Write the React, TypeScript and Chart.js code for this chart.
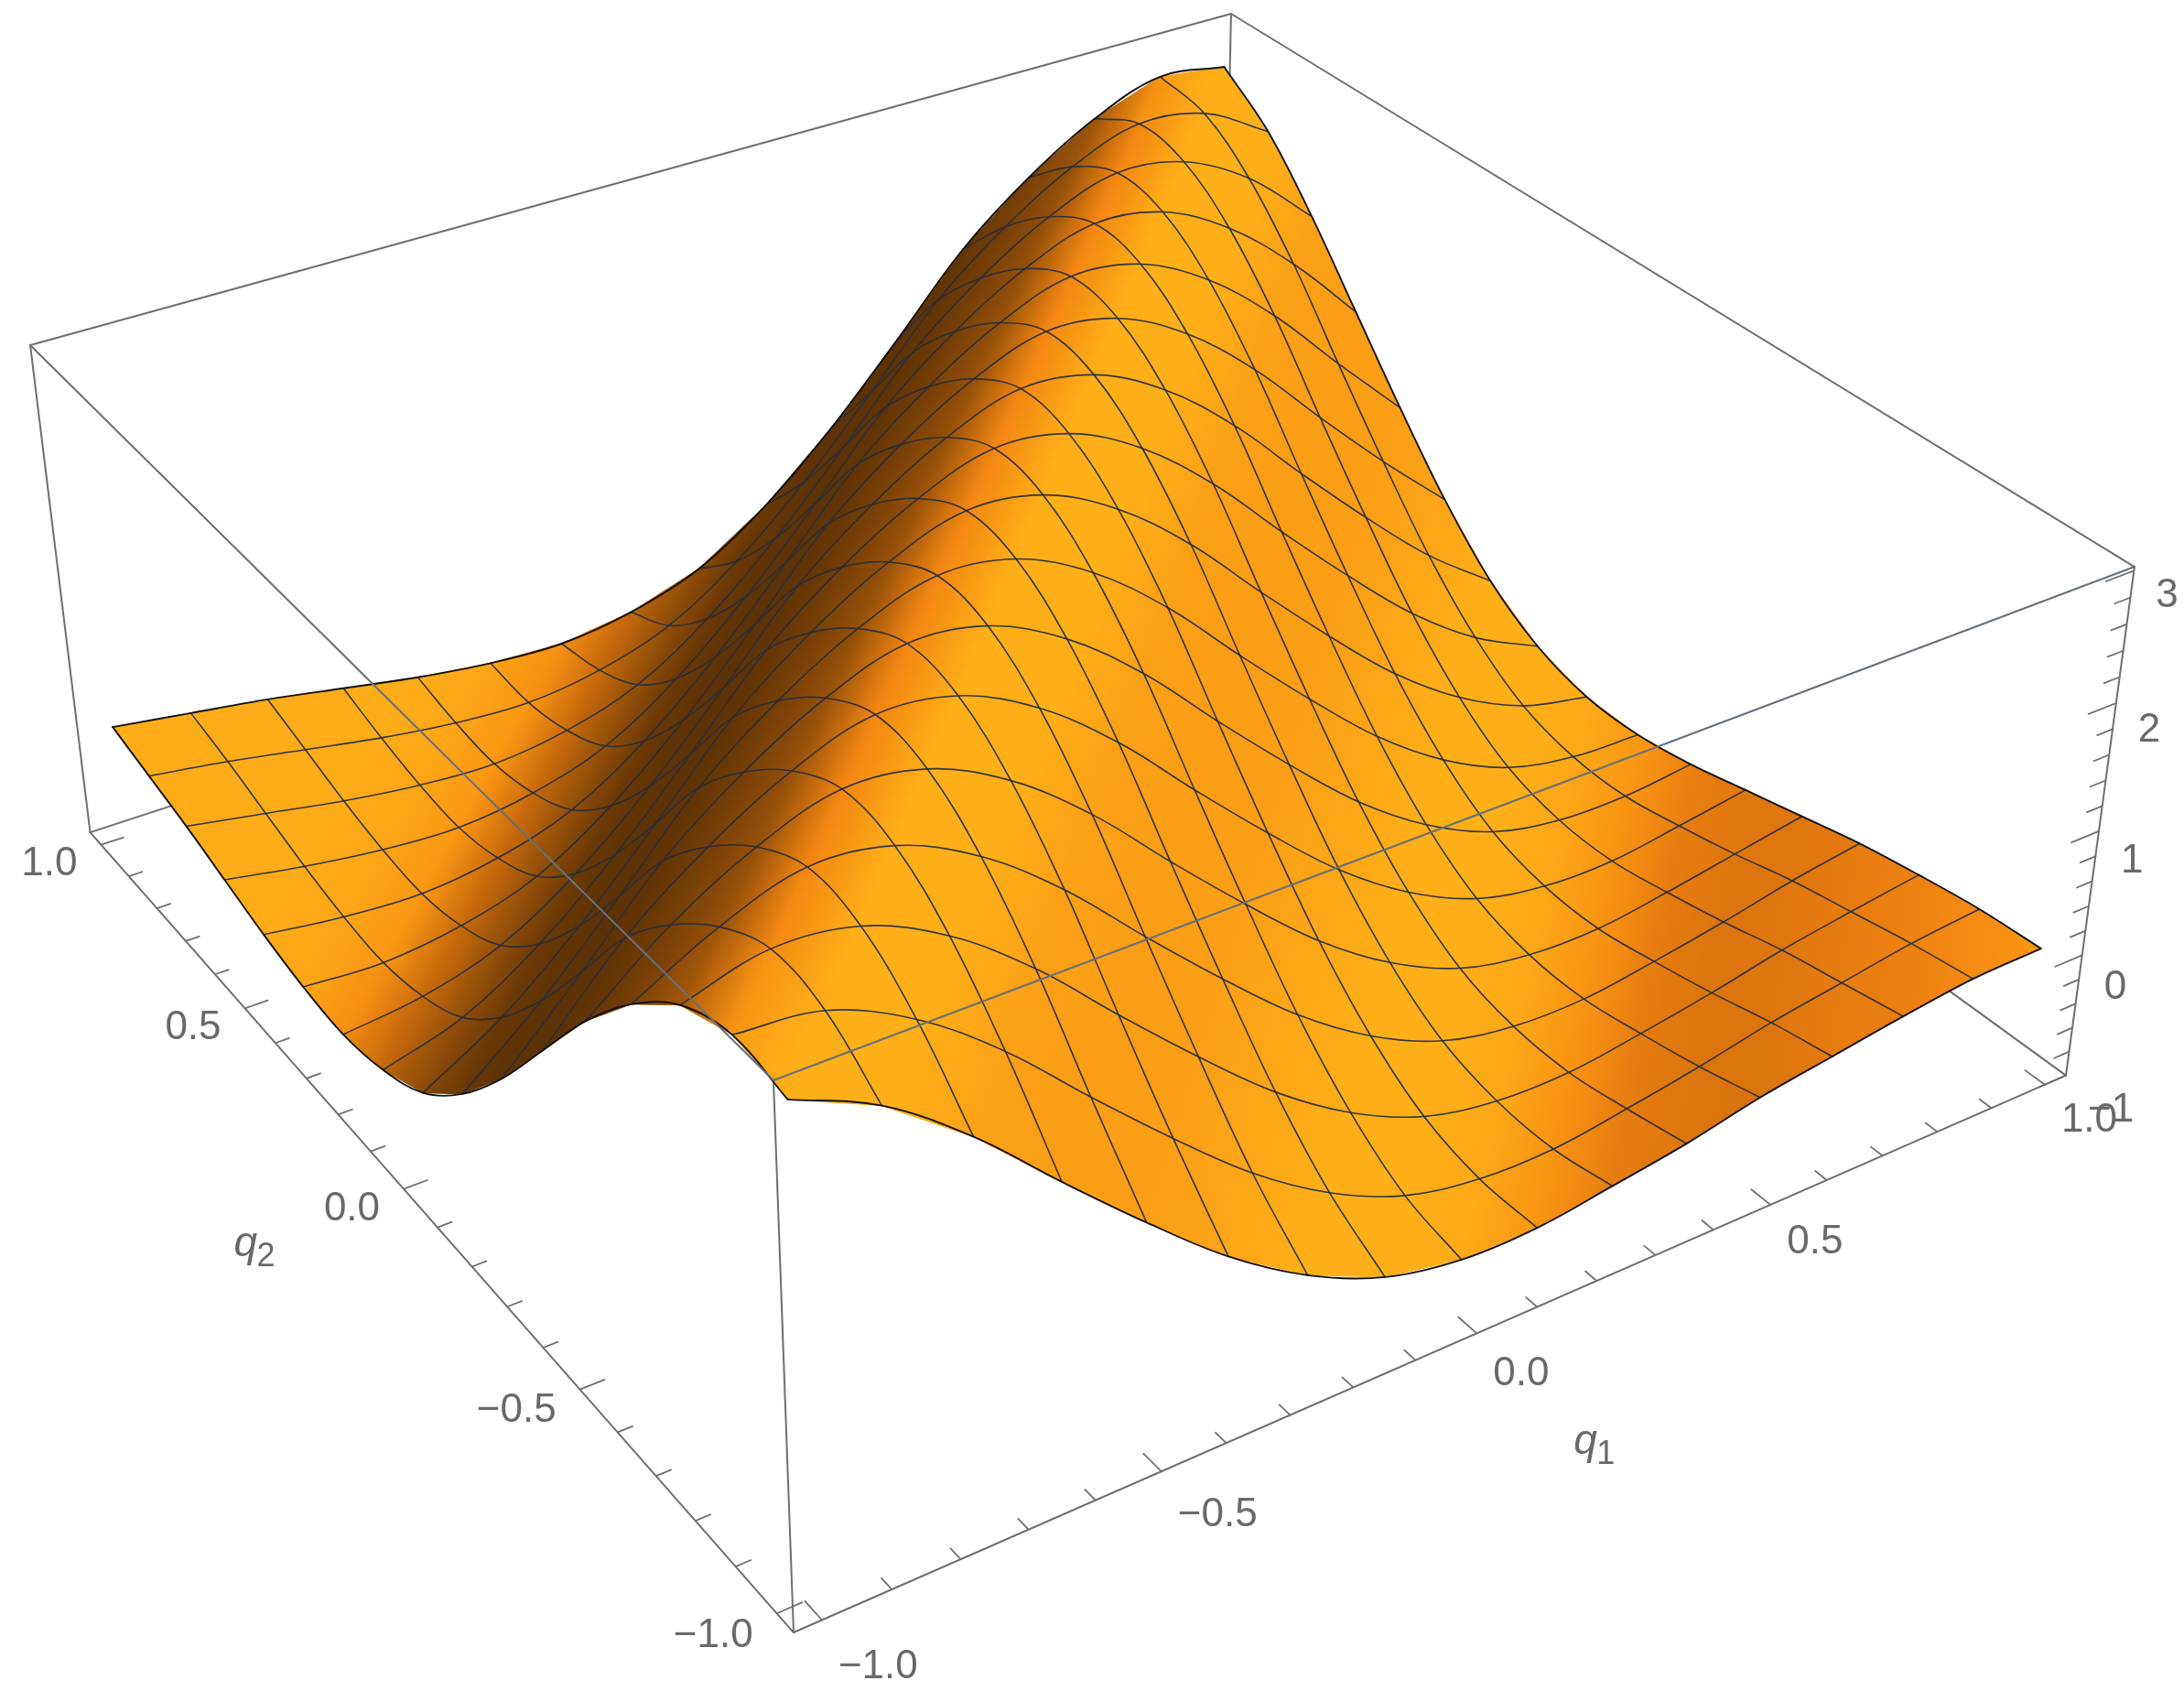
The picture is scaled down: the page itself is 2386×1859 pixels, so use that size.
import React, { useEffect, useRef } from "react";
import { Chart, registerables } from "chart.js";

Chart.register(...registerables);

// q1 / q2 grid (mesh lines, plus the two edges of the surface)
const gridQ = [-1, -0.875, -0.75, -0.625, -0.5, -0.375, -0.25, -0.125, 0, 0.125, 0.25, 0.375, 0.5, 0.625, 0.75, 0.875, 1];

// surface height, one row for each q2 (from -1 to 1), one column for each q1 (from -1 to 1)
const surfaceZ = [
  [2.70, 2.41, 1.94, 1.36, 0.80, 0.28, -0.13, -0.41, -0.535, -0.54, -0.46, -0.37, -0.245, -0.156, -0.07, 0.00, 0.015],
  [2.77, 2.70, 2.40, 1.93, 1.35, 0.79, 0.27, -0.14, -0.42, -0.54, -0.55, -0.47, -0.37, -0.25, -0.16, -0.07, -0.015],
  [2.61, 2.77, 2.70, 2.40, 1.93, 1.35, 0.79, 0.27, -0.14, -0.42, -0.54, -0.55, -0.47, -0.37, -0.25, -0.16, -0.08],
  [2.25, 2.57, 2.77, 2.70, 2.40, 1.93, 1.35, 0.79, 0.27, -0.14, -0.42, -0.54, -0.55, -0.47, -0.37, -0.25, -0.16],
  [1.76, 2.23, 2.57, 2.77, 2.70, 2.40, 1.93, 1.35, 0.79, 0.27, -0.14, -0.42, -0.54, -0.55, -0.47, -0.37, -0.27],
  [1.17, 1.78, 2.23, 2.57, 2.77, 2.70, 2.40, 1.93, 1.35, 0.79, 0.27, -0.14, -0.42, -0.54, -0.55, -0.47, -0.38],
  [0.58, 1.17, 1.78, 2.23, 2.57, 2.77, 2.70, 2.40, 1.93, 1.35, 0.79, 0.27, -0.14, -0.42, -0.54, -0.55, -0.49],
  [0.08, 0.58, 1.17, 1.78, 2.23, 2.57, 2.77, 2.70, 2.40, 1.93, 1.35, 0.79, 0.27, -0.14, -0.42, -0.54, -0.56],
  [-0.29, 0.08, 0.58, 1.17, 1.78, 2.23, 2.57, 2.77, 2.70, 2.40, 1.93, 1.35, 0.79, 0.27, -0.14, -0.42, -0.55],
  [-0.48, -0.29, 0.08, 0.58, 1.17, 1.78, 2.23, 2.57, 2.77, 2.70, 2.40, 1.93, 1.35, 0.79, 0.27, -0.14, -0.42],
  [-0.56, -0.48, -0.29, 0.08, 0.58, 1.17, 1.78, 2.23, 2.57, 2.77, 2.70, 2.40, 1.93, 1.35, 0.79, 0.27, -0.15],
  [-0.53, -0.56, -0.48, -0.29, 0.08, 0.58, 1.17, 1.78, 2.23, 2.57, 2.77, 2.70, 2.40, 1.93, 1.35, 0.79, 0.27],
  [-0.45, -0.53, -0.56, -0.48, -0.29, 0.08, 0.58, 1.17, 1.78, 2.23, 2.57, 2.77, 2.70, 2.40, 1.93, 1.35, 0.79],
  [-0.34, -0.45, -0.53, -0.56, -0.48, -0.29, 0.08, 0.58, 1.17, 1.78, 2.23, 2.57, 2.77, 2.70, 2.40, 1.93, 1.35],
  [-0.23, -0.34, -0.45, -0.53, -0.56, -0.48, -0.29, 0.08, 0.58, 1.17, 1.78, 2.23, 2.57, 2.77, 2.70, 2.40, 1.91],
  [-0.14, -0.23, -0.34, -0.45, -0.53, -0.56, -0.48, -0.29, 0.08, 0.58, 1.17, 1.78, 2.23, 2.57, 2.77, 2.70, 2.39],
  [-0.05, -0.14, -0.23, -0.34, -0.45, -0.53, -0.56, -0.48, -0.29, 0.08, 0.58, 1.17, 1.78, 2.23, 2.57, 2.77, 2.70],
];

const qMajorTicks = [-1, -0.5, 0, 0.5, 1];
const qMinorTicks = [-0.9, -0.8, -0.7, -0.6, -0.4, -0.3, -0.2, -0.1, 0.1, 0.2, 0.3, 0.4, 0.6, 0.7, 0.8, 0.9];
const zMajorTicks = [-1, 0, 1, 2, 3];
const zMinorTicks = [-0.8, -0.6, -0.4, -0.2, 0.2, 0.4, 0.6, 0.8, 1.2, 1.4, 1.6, 1.8, 2.2, 2.4, 2.6, 2.8];
const qTickLabels = ["\u22121.0", "\u22120.5", "0.0", "0.5", "1.0"];
const zTickLabels = ["\u22121", "0", "1", "2", "3"];

// Box extent of the 3D frame
const Q_EDGE = 1.04;
const Z_BOTTOM = -1;
const Z_TOP = 3.03;

// Perspective camera: box coordinates -> picture plane
function project(q1: number, q2: number, z: number) {
  const u = (q1 + Q_EDGE) / (2 * Q_EDGE);
  const v = (q2 + Q_EDGE) / (2 * Q_EDGE);
  const t = (Z_TOP - z) / (Z_TOP - Z_BOTTOM);
  const w = 1 + 0.172 * u + 0.2628 * v + 0.079 * t;
  return {
    x: (1888 * u - 803.3 * v + 90.5 * t + 845) / w,
    y: (-454.5 * u - 704 * v + 743.9 * t + 1180) / w,
    w,
  };
}

// Colour as a function of the surface's slope across the ridge
const shadeRamp: number[][] = [
  [-0.6, 92, 49, 5],
  [-0.43, 108, 57, 6],
  [-0.28, 145, 78, 9],
  [-0.14, 198, 105, 12],
  [-0.1, 226, 120, 14],
  [-0.065, 243, 134, 18],
  [-0.03, 251, 150, 20],
  [0.05, 253, 164, 22],
  [0.09, 254, 172, 24],
  [0.2, 255, 176, 24],
  [0.39, 255, 176, 24],
  [0.52, 252, 160, 22],
  [0.6, 251, 156, 22],
];

function rampColour(s: number): number[] {
  if (s <= shadeRamp[0][0]) return shadeRamp[0].slice(1);
  for (let k = 1; k < shadeRamp.length; k++) {
    const a = shadeRamp[k - 1];
    const b = shadeRamp[k];
    if (s <= b[0]) {
      const f = (s - a[0]) / (b[0] - a[0]);
      return [a[1] + (b[1] - a[1]) * f, a[2] + (b[2] - a[2]) * f, a[3] + (b[3] - a[3]) * f];
    }
  }
  return shadeRamp[shadeRamp.length - 1].slice(1);
}

function slopeAt(i: number, j: number) {
  const n = gridQ.length - 1;
  const i0 = Math.max(0, i - 1);
  const i1 = Math.min(n, i + 1);
  const j0 = Math.max(0, j - 1);
  const j1 = Math.min(n, j + 1);
  const dj = (surfaceZ[j1][i] - surfaceZ[j0][i]) / (j1 - j0);
  const di = (surfaceZ[j][i1] - surfaceZ[j][i0]) / (i1 - i0);
  return (dj - di) / 2;
}

const css = (c: number[]) => `rgb(${Math.round(c[0])},${Math.round(c[1])},${Math.round(c[2])})`;

function cellPaint(chart: any, i: number, j: number) {
  const { x: sx, y: sy } = chart.scales;
  const px = (a: number, b: number) => {
    const p = project(gridQ[a], gridQ[b], surfaceZ[b][a]);
    const x = sx ? sx.getPixelForValue(p.x) : NaN;
    const y = sy ? sy.getPixelForValue(p.y) : NaN;
    // before the first layout the scales have no size yet; they map 1:1 onto the canvas
    return { x: Number.isFinite(x) ? x : p.x, y: Number.isFinite(y) ? y : p.y };
  };
  const c0 = px(i, j);
  const c1 = px(i + 1, j + 1);
  const a = px(i, j + 1);
  const b = px(i + 1, j);
  const dx = c1.x - c0.x;
  const dy = c1.y - c0.y;
  const len = Math.hypot(dx, dy) || 1;
  const nx = -dy / len;
  const ny = dx / len;
  const mx = (c0.x + c1.x) / 2;
  const my = (c0.y + c1.y) / 2;
  const sa = (a.x - mx) * nx + (a.y - my) * ny;
  const sb = (b.x - mx) * nx + (b.y - my) * ny;
  const g = chart.ctx.createLinearGradient(mx + nx * sa, my + ny * sa, mx + nx * sb, my + ny * sb);
  const colA = rampColour(slopeAt(i, j + 1));
  const colB = rampColour(slopeAt(i + 1, j));
  const colM0 = rampColour(slopeAt(i, j));
  const colM1 = rampColour(slopeAt(i + 1, j + 1));
  const colM = [0, 1, 2].map((k) => (colM0[k] + colM1[k]) / 2);
  const off = Math.min(0.95, Math.max(0.05, -sa / (sb - sa || 1)));
  g.addColorStop(0, css(colA));
  g.addColorStop(off, css(colM));
  g.addColorStop(1, css(colB));
  return g;
}

const BOX_GREY = "#6e6e6e";
const BOX_FRONT_GREY = "#66707a";
const TICK_GREY = "#707070";
const TEXT_GREY = "#696969";
const MESH = "rgba(40,46,58,0.95)";

function lineDataset(points: any[], color: string, width: number, order: number, tension = 0) {
  return {
    data: points,
    showLine: true,
    fill: false,
    borderColor: color,
    borderWidth: width,
    pointRadius: 0,
    tension,
    order,
    spanGaps: false,
    borderCapStyle: "round",
    borderJoinStyle: "round",
  };
}

function buildDatasets() {
  const n = gridQ.length - 1;
  const E = Q_EDGE;
  const sets: any[] = [];

  // hidden-side box lines, behind the surface
  const back = [
    [[-E, E, Z_TOP], [E, E, Z_TOP]],
    [[E, E, Z_TOP], [E, -E, Z_TOP]],
    [[-E, E, Z_BOTTOM], [E, E, Z_BOTTOM]],
    [[E, -E, Z_BOTTOM], [E, E, Z_BOTTOM]],
    [[E, E, Z_BOTTOM], [E, E, Z_TOP]],
    [[-E, E, Z_BOTTOM], [-E, E, Z_TOP]],
    [[E, -E, Z_BOTTOM], [E, -E, Z_TOP]],
    [[-E, -E, Z_BOTTOM], [-E, E, Z_BOTTOM]],
    [[-E, -E, Z_BOTTOM], [E, -E, Z_BOTTOM]],
    [[-E, -E, Z_BOTTOM], [-E, -E, Z_TOP]],
  ];
  back.forEach((seg) =>
    sets.push(lineDataset(seg.map((p) => project(p[0], p[1], p[2])), BOX_GREY, 2, 100000))
  );

  // tick marks
  const pushTicks = (vals: number[], len: number) => {
    const qa: any[] = [];
    const qb: any[] = [];
    vals.forEach((q) => {
      qa.push(project(q, -E, Z_BOTTOM), project(q, -E + len, Z_BOTTOM), { x: NaN, y: NaN });
      qb.push(project(-E, q, Z_BOTTOM), project(-E + len * 0.9, q, Z_BOTTOM), { x: NaN, y: NaN });
    });
    sets.push(lineDataset(qa, TICK_GREY, 1.8, 100001));
    sets.push(lineDataset(qb, TICK_GREY, 1.8, 100001));
  };
  pushTicks(qMajorTicks, 0.04);
  pushTicks(qMinorTicks, 0.024);
  const zt: any[] = [];
  zMajorTicks.forEach((z) => zt.push(project(E, -E, z), project(E - 0.05, -E, z), { x: NaN, y: NaN }));
  zMinorTicks.forEach((z) => zt.push(project(E, -E, z), project(E - 0.028, -E, z), { x: NaN, y: NaN }));
  sets.push(lineDataset(zt, TICK_GREY, 1.8, 100001));

  // surface cells, far ones painted first
  const cells: { i: number; j: number; w: number }[] = [];
  for (let j = 0; j < n; j++) {
    for (let i = 0; i < n; i++) {
      const p = project((gridQ[i] + gridQ[i + 1]) / 2, (gridQ[j] + gridQ[j + 1]) / 2, (surfaceZ[j][i] + surfaceZ[j + 1][i + 1]) / 2);
      cells.push({ i, j, w: p.w });
    }
  }
  cells.sort((a, b) => a.w - b.w);
  cells.forEach((c, rank) => {
    const { i, j } = c;
    const at = (a: number, b: number) => project(gridQ[a], gridQ[b], surfaceZ[b][a]);
    const paint = (ctx: any) => cellPaint(ctx.chart, i, j);
    sets.push({
      data: [at(i, j), at(i + 1, j), at(i + 1, j + 1), at(i, j + 1), at(i, j)],
      showLine: true,
      fill: "shape",
      backgroundColor: paint,
      borderColor: paint,
      borderWidth: 1,
      pointRadius: 0,
      tension: 0,
      order: 10 + rank,
    });
  });

  // mesh lines and surface outline
  for (let k = 0; k <= n; k++) {
    const edge = k === 0 || k === n;
    const along = gridQ.map((_, a) => project(gridQ[a], gridQ[k], surfaceZ[k][a]));
    const across = gridQ.map((_, b) => project(gridQ[k], gridQ[b], surfaceZ[b][k]));
    sets.push(lineDataset(along, edge ? "#111111" : MESH, edge ? 1.9 : 1.6, edge ? 3 : 4, 0.36));
    sets.push(lineDataset(across, edge ? "#111111" : MESH, edge ? 1.9 : 1.6, edge ? 3 : 4, 0.36));
  }

  // the two top box edges that pass in front of the surface
  sets.push(lineDataset([project(-E, -E, Z_TOP), project(-E, E, Z_TOP)], BOX_FRONT_GREY, 2, 1));
  sets.push(lineDataset([project(-E, -E, Z_TOP), project(E, -E, Z_TOP)], BOX_FRONT_GREY, 2, 1));
  return sets;
}

const textPlugin = {
  id: "axisText",
  afterDatasetsDraw(chart: any) {
    const { ctx, scales } = chart;
    const at = (p: { x: number; y: number }) => ({
      x: scales.x.getPixelForValue(p.x),
      y: scales.y.getPixelForValue(p.y),
    });
    ctx.save();
    ctx.fillStyle = TEXT_GREY;
    ctx.textBaseline = "middle";
    ctx.font = "44px 'Liberation Sans'";
    const E = Q_EDGE;
    ctx.textAlign = "left";
    qMajorTicks.forEach((q, k) => {
      const p = at(project(q, -E, Z_BOTTOM));
      const yLabel = at(project(q, -E - 0.098, Z_BOTTOM)).y;
      ctx.fillText(qTickLabels[k], p.x + 18, yLabel);
    });
    zMajorTicks.forEach((z, k) => {
      const p = at(project(E, -E, z));
      ctx.fillText(zTickLabels[k], p.x + 24, p.y + 27 + ((p.y - 623) * 11) / 551);
    });
    ctx.textAlign = "right";
    qMajorTicks.forEach((q, k) => {
      const p = at(project(-E, q, Z_BOTTOM));
      ctx.fillText(qTickLabels[k], p.x - 26, p.y + 21 + (p.y - 920) * 0.004);
    });
    const title = (sub: string, p: { x: number; y: number }) => {
      ctx.textAlign = "left";
      ctx.font = "italic 46px 'Liberation Sans'";
      ctx.fillText("q", p.x - 26, p.y - 6);
      ctx.font = "36px 'Liberation Sans'";
      ctx.fillText(sub, p.x - 1, p.y + 8);
    };
    const q1Pos = at(project(0, -E - 0.27, Z_BOTTOM));
    const q2Pos = at(project(-E - 0.225, 0, Z_BOTTOM));
    title("1", { x: q1Pos.x - 9, y: q1Pos.y });
    title("2", { x: q2Pos.x + 5, y: q2Pos.y + 5 });
    ctx.restore();
  },
};

export default function App() {
  const ref = useRef<HTMLCanvasElement | null>(null);
  useEffect(() => {
    document.body.style.margin = "0";
    document.body.style.background = "#ffffff";
    const chart = new Chart(ref.current as HTMLCanvasElement, {
      type: "scatter",
      data: { datasets: buildDatasets() },
      options: {
        animation: false,
        responsive: false,
        devicePixelRatio: 1,
        events: [],
        layout: { padding: 0 },
        plugins: { legend: { display: false }, tooltip: { enabled: false }, title: { display: false } },
        scales: {
          x: { type: "linear", display: false, min: 0, max: 2386 },
          y: { type: "linear", display: false, min: 0, max: 1859, reverse: true },
        },
      },
      plugins: [textPlugin],
    } as any);
    return () => chart.destroy();
  }, []);
  return <canvas ref={ref} width={2386} height={1859} style={{ display: "block" }} />;
}
